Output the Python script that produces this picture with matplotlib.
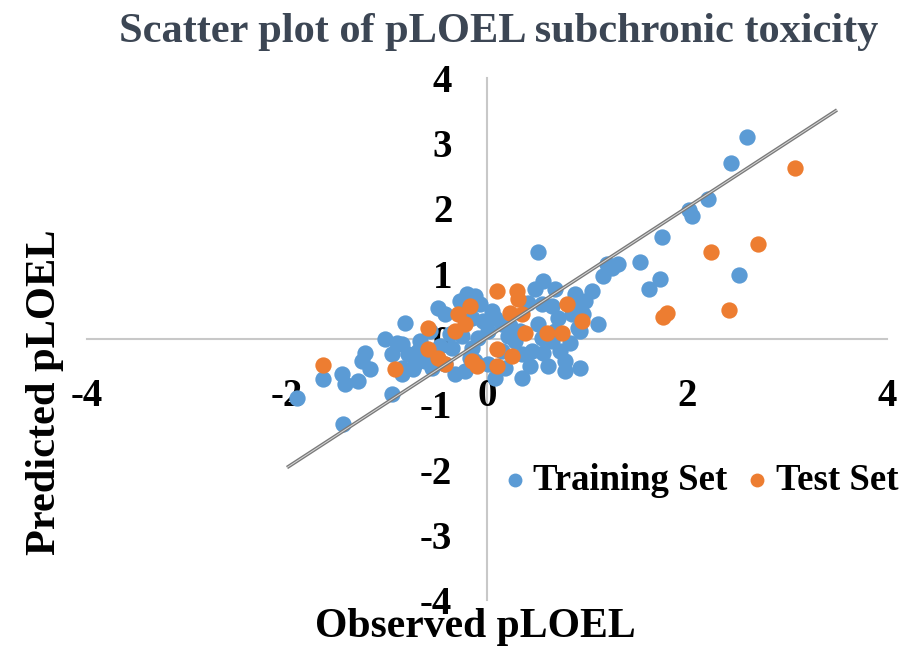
import matplotlib
matplotlib.use("Agg")
import matplotlib.pyplot as plt

# Training set (observed, predicted)
train_x = [2.60, 2.44, 2.21, 2.02, 2.05, 1.75, 2.52, 1.73, 1.62, 1.53, 1.31, 1.20, 1.16, 1.25,
           1.05, 0.98, 1.11, 0.93, 0.93, 0.51, 0.56, 0.68, 0.48, 0.88, 0.96, 0.85, 0.71, 0.91,
           0.51, 0.55, 0.65, 0.83, 0.45, 0.56, 0.73, 0.78, 0.78, 0.35, 0.15, 0.18, 0.28, 0.35,
           0.08, 0.15, 0.41, 0.55, 0.65, -0.82, -0.49, -0.20, -0.12, -0.07, 0.05, -0.42, -0.15,
           -0.04, -0.85, -0.79, -0.85, -0.72, -0.62, -0.55, -0.42, -0.32, -0.22, -0.12, 0.01,
           0.08, -0.35, -0.15, -0.09, 0.01, -0.37, -1.02, -0.90, -0.95, -1.22, -1.25, -1.17,
           -1.45, -1.42, -1.29, -1.64, -1.90, -1.44, -0.95, -0.74, -0.85, -0.27, -0.57, -0.67,
           0.90, 0.33, 0.23, 0.68, 0.61, 0.43, -0.47, -0.25, -0.17, -0.69, 0.21]
train_y = [3.09, 2.69, 2.15, 1.97, 1.88, 1.57, 0.98, 0.92, 0.77, 1.18, 1.15, 1.15, 0.97, 1.09,
           0.74, 0.58, 0.23, 0.12, -0.45, 1.34, 0.89, 0.77, 0.77, 0.69, 0.38, 0.38, 0.32, 0.17,
           0.23, 0.02, -0.03, -0.06, -0.18, -0.22, -0.18, -0.34, -0.49, -0.60, -0.18, -0.45, -0.03,
           -0.23, 0.32, 0.23, 0.55, 0.54, 0.51, 0.25, 0.48, 0.69, 0.66, 0.54, 0.43, 0.38, 0.32,
           0.28, -0.08, -0.23, -0.45, -0.38, -0.34, -0.45, -0.38, -0.54, -0.49, -0.34, -0.38,
           -0.60, -0.14, -0.14, 0.02, 0.12, 0.08, 0.00, -0.06, -0.23, -0.22, -0.34, -0.46,
           -0.54, -0.69, -0.65, -0.62, -0.91, -1.31, -0.85, -0.46, -0.54, 0.58, 0.12, -0.03,
           0.51, 0.12, 0.20, 0.12, -0.42, -0.42, -0.11, 0.05, -0.29, -0.18, 0.05]

# Test set (observed, predicted)
test_x = [3.08, 2.71, 2.24, 2.42, 1.80, 1.76, 0.95, 0.80, 0.10, 0.30, 0.31, 0.23, 0.35, 0.38,
          0.60, 0.75, 0.10, 0.25, 0.10, -0.17, -0.29, -0.22, -0.59, -0.32, -0.59, -0.42, -0.92,
          -0.15, -0.10, -1.64, -0.49]
test_y = [2.62, 1.46, 1.34, 0.45, 0.40, 0.34, 0.28, 0.54, 0.74, 0.74, 0.62, 0.40, 0.38, 0.09,
          0.09, 0.09, -0.15, -0.26, -0.42, 0.51, 0.38, 0.23, 0.17, 0.12, -0.15, -0.38, -0.46,
          -0.34, -0.42, -0.40, -0.29]

# Fitted line endpoints
fit_x = [-2.0, 3.5]
fit_y = [-1.97, 3.51]

x_ticks = [-4, -2, 0, 2, 4]
y_ticks = [-4, -3, -2, -1, 0, 1, 2, 3, 4]

title = "Scatter plot of pLOEL subchronic toxicity"
xlabel = "Observed pLOEL"
ylabel = "Predicted pLOEL"

BLUE = "#5B9BD5"
ORANGE = "#ED7D31"
SERIF = ["Liberation Serif", "DejaVu Serif"]

fig = plt.figure(figsize=(9.14, 6.47), dpi=100)
ax = fig.add_axes([87 / 914, 47 / 647, 800 / 914, 522 / 647])
ax.set_xlim(-4, 4)
ax.set_ylim(-4, 4)

ax.scatter(train_x, train_y, s=138, color=BLUE, linewidths=0, zorder=3, label="Training Set")
ax.scatter(test_x, test_y, s=138, color=ORANGE, linewidths=0, zorder=4, label="Test Set")
ax.plot(fit_x, fit_y, color="#7a7a7a", lw=2.6, zorder=5, solid_capstyle="butt")
ax.plot(fit_x, fit_y, color="#d8d8d8", lw=0.7, zorder=6, solid_capstyle="butt")

for side in ["top", "right"]:
    ax.spines[side].set_visible(False)
for side in ["left", "bottom"]:
    ax.spines[side].set_position(("data", 0))
    ax.spines[side].set_color("#c8c8c8")
    ax.spines[side].set_linewidth(1.5)
    ax.spines[side].set_zorder(1)

ax.set_xticks(x_ticks)
ax.set_yticks(y_ticks)
ax.set_xticklabels([str(v) for v in x_ticks])
ax.set_yticklabels([str(v) for v in y_ticks])
ax.tick_params(axis="both", length=0, labelsize=28)
ax.tick_params(axis="x", pad=28)
ax.tick_params(axis="y", pad=25)
for lab in ax.get_xticklabels() + ax.get_yticklabels():
    lab.set_fontfamily(SERIF)
    lab.set_fontweight("bold")

fig.text(499 / 914, 1 - 32 / 647, title, ha="center", va="center", fontsize=30.5,
         fontweight="bold", family=SERIF, color="#3C4654")
fig.text(475 / 914, 1 - 627 / 647, xlabel, ha="center", va="center", fontsize=30,
         fontweight="bold", family=SERIF)
fig.text(45 / 914, 1 - 392 / 647, ylabel, ha="center", va="center", rotation=90,
         fontsize=30.5, fontweight="bold", family=SERIF)

leg = ax.legend(loc="center left", bbox_to_anchor=(504 / 914, 1 - 480 / 647),
                bbox_transform=fig.transFigure, ncol=2, frameon=False,
                prop={"family": SERIF, "weight": "bold", "size": 26.5},
                borderpad=0, borderaxespad=0, handletextpad=0.2, columnspacing=0.5,
                markerscale=0.85, handlelength=0.6)

fig.savefig("out.png", dpi=100)
